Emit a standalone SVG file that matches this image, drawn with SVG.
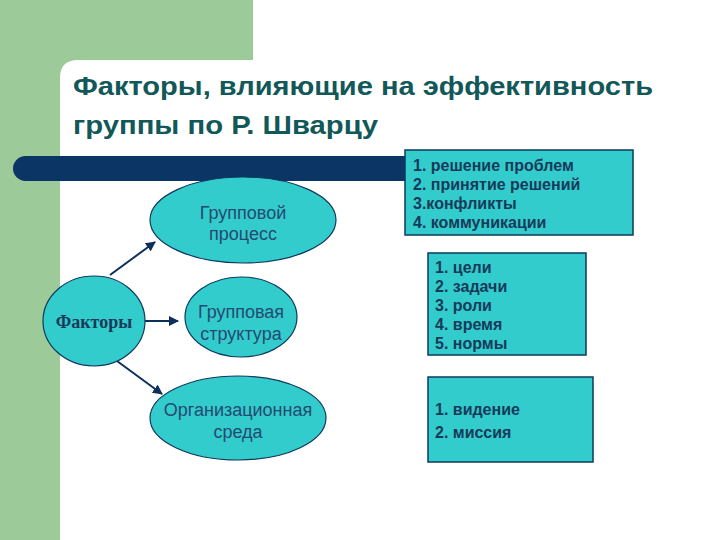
<svg xmlns="http://www.w3.org/2000/svg" width="720" height="540" viewBox="0 0 720 540">
<defs>
<style>
.title{font-family:"Liberation Sans",Arial,sans-serif;font-weight:bold;font-size:26px;fill:#125858}
.ell{fill:#33cccc;stroke:#0d3a5e;stroke-width:1.2}
.etxt{font-family:"Liberation Sans",Arial,sans-serif;font-size:18px;fill:#234a70;text-anchor:middle}
.box{fill:#33cccc;stroke:#0d3a5e;stroke-width:1.5}
.btxt{font-family:"Liberation Sans",Arial,sans-serif;font-weight:bold;font-size:16px;fill:#163a5a}
.conn{stroke:#0d2f5c;stroke-width:2;fill:none;marker-end:url(#ah)}
</style>
<marker id="ah" viewBox="0 0 10 10" refX="9" refY="5" markerWidth="5" markerHeight="5" orient="auto" markerUnits="strokeWidth">
<path d="M0,0 L10,5 L0,10 z" fill="#0d2f5c"/>
</marker>
</defs>
<rect width="720" height="540" fill="#ffffff"/>
<g id="background">
<rect x="0" y="0" width="253" height="75" fill="#9cca98"/>
<rect x="0" y="0" width="60" height="540" fill="#9cca98"/>
<path d="M60,540 L60,78 Q60,60 78,60 L253,60 L253,75 L720,75 L720,540 Z" fill="#ffffff"/>
<rect x="253" y="0" width="467" height="75" fill="#ffffff"/>
</g>
<g id="title">
<text class="title" x="73" y="95" textLength="580" lengthAdjust="spacingAndGlyphs">Факторы, влияющие на эффективность</text>
<text class="title" x="73" y="134" textLength="305" lengthAdjust="spacingAndGlyphs">группы по Р. Шварцу</text>
</g>
<rect id="bar" x="13" y="156" width="410" height="25" rx="12.5" fill="#0a3565"/>
<g id="connectors">
<line class="conn" x1="110" y1="275" x2="155" y2="242"/>
<line class="conn" x1="145" y1="321" x2="178" y2="321"/>
<line class="conn" x1="117" y1="361" x2="162" y2="394"/>
</g>
<g id="faktory">
<ellipse class="ell" cx="94" cy="321" rx="51" ry="45"/>
<text x="94" y="328" text-anchor="middle" font-family="'Liberation Serif','Times New Roman',serif" font-weight="bold" font-size="18" fill="#163a5a">Факторы</text>
</g>
<g id="process">
<ellipse class="ell" cx="243" cy="220" rx="93" ry="43"/>
<text class="etxt" x="243" y="219">Групповой</text>
<text class="etxt" x="243" y="240">процесс</text>
</g>
<g id="structure">
<ellipse class="ell" cx="241" cy="317" rx="56" ry="40"/>
<text class="etxt" x="241" y="318">Групповая</text>
<text class="etxt" x="241" y="340">структура</text>
</g>
<g id="environment">
<ellipse class="ell" cx="238" cy="418" rx="88" ry="42"/>
<text class="etxt" x="238" y="416">Организационная</text>
<text class="etxt" x="238" y="438">среда</text>
</g>
<g id="box1">
<rect class="box" x="405" y="150" width="228" height="85"/>
<text class="btxt" x="413" y="171">1. решение проблем</text>
<text class="btxt" x="413" y="190">2. принятие решений</text>
<text class="btxt" x="413" y="209">3.конфликты</text>
<text class="btxt" x="413" y="228">4. коммуникации</text>
</g>
<g id="box2">
<rect class="box" x="428" y="253" width="158" height="102"/>
<text class="btxt" x="435" y="273">1. цели</text>
<text class="btxt" x="435" y="292">2. задачи</text>
<text class="btxt" x="435" y="311">3. роли</text>
<text class="btxt" x="435" y="330">4. время</text>
<text class="btxt" x="435" y="349">5. нормы</text>
</g>
<g id="box3">
<rect class="box" x="428" y="377" width="165" height="85"/>
<text class="btxt" x="435" y="415">1. видение</text>
<text class="btxt" x="435" y="438">2. миссия</text>
</g>
</svg>
